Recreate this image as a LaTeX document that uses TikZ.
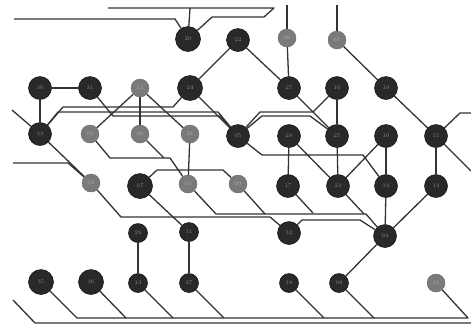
\documentclass[tikz,border=0pt]{standalone}
\usetikzlibrary{backgrounds}
\begin{document}
\begin{tikzpicture}[x=1pt,y=-1pt,
  dk/.style={circle,fill=black!84,draw=black!95,line width=0.5pt,minimum size=25pt,inner sep=0pt,font=\fontsize{5.5}{5.5}\selectfont,text=black!45},
  dkm/.style={dk,minimum size=23pt},
  dks/.style={dk,minimum size=19pt},
  gr/.style={circle,fill=black!52,draw=black!58,line width=0.4pt,minimum size=18pt,inner sep=0pt,font=\fontsize{5.5}{5.5}\selectfont,text=black!32},
  ln/.style={draw=black!80,line width=1.3pt,line join=round}]
\useasboundingbox (0,0) rectangle (471,325);
% nodes
\node[dk] (a0) at (188,39) {20};
\node[dkm] (b0) at (238,40) {22};
\node[gr] (c0) at (287,38) {26};
\node[gr] (d0) at (337,40) {61};
\node[dkm] (r1c0) at (40,88) {30};
\node[dkm] (r1c1) at (90,88) {31};
\node[gr] (r1c2) at (140,88) {12};
\node[dk] (r1c3) at (190,88) {24};
\node[dkm] (r1c5) at (289,88) {27};
\node[dkm] (r1c6) at (337,88) {16};
\node[dkm] (r1c7) at (386,88) {19};
\node[dkm] (r2c0) at (40,134) {33};
\node[gr] (r2c1) at (90,134) {02};
\node[gr] (r2c2) at (140,134) {06};
\node[gr] (r2c3) at (190,134) {21};
\node[dkm] (r2c4) at (238,136) {05};
\node[dkm] (r2c5) at (289,136) {28};
\node[dkm] (r2c6) at (337,136) {25};
\node[dkm] (r2c7) at (386,136) {10};
\node[dkm] (r2c8) at (436,136) {15};
\node[gr] (r3c1) at (91,183) {01};
\node[dk] (r3c2) at (140,186) {07};
\node[gr] (r3c3) at (188,184) {03};
\node[gr] (r3c4) at (238,184) {09};
\node[dkm] (r3c5) at (288,186) {17};
\node[dkm] (r3c6) at (338,186) {23};
\node[dkm] (r3c7) at (386,186) {34};
\node[dkm] (r3c8) at (436,186) {14};
\node[dks] (r4c2) at (138,233) {29};
\node[dks] (r4c3) at (189,232) {11};
\node[dkm] (r4c5) at (289,233) {32};
\node[dkm] (r4c7) at (385,236) {04};
\node[dk] (r5c0) at (41,282) {35};
\node[dk] (r5c1) at (91,282) {36};
\node[dks] (r5c2) at (138,283) {13};
\node[dks] (r5c3) at (189,283) {37};
\node[dks] (r5c5) at (289,283) {18};
\node[dks] (r5c6) at (339,283) {08};
\node[gr] (r5c8) at (436,283) {38};
% free ends
\coordinate (t1) at (108,8);
\coordinate (t2) at (190,8);
\coordinate (t3) at (14,19);
\coordinate (t4) at (287,5);
\coordinate (t5) at (337,5);
\coordinate (e1) at (12,110);
\coordinate (e2) at (13,163);
\coordinate (e3) at (471,113);
\coordinate (e4) at (471,171);
\coordinate (e5) at (13,300);
\coordinate (e6) at (471,323);
\coordinate (m1) at (164,158);
\coordinate (m2) at (265,214);
\coordinate (m3) at (313,213);
\coordinate (m4) at (364,214);
\coordinate (m5) at (126,318);
\coordinate (m6) at (173,318);
\coordinate (m7) at (224,318);
\coordinate (m8) at (324,318);
\coordinate (m9) at (374,318);
\begin{scope}[on background layer]
\fill[white] (0,0) rectangle (471,325);
% top
\draw[ln] (t1) -- (274,8) -- (264,17) -- (212,17) -- (a0);
\draw[ln] (t2) -- (a0);
\draw[ln] (t3) -- (175,19) -- (a0);
\draw[ln] (t4) -- (c0);
\draw[ln] (t5) -- (d0);
\draw[ln] (b0) -- (r1c3);
\draw[ln] (b0) -- (r1c5);
\draw[ln] (c0) -- (r1c5);
\draw[ln] (d0) -- (r1c7);
% row 1
\draw[ln] (r1c0) -- (r1c1);
\draw[ln] (r1c0) -- (r2c0);
\draw[ln] (r1c2) -- (r2c1);
\draw[ln] (r1c2) -- (r2c2);
\draw[ln] (r1c2) -- (r2c3);
\draw[ln] (r1c3) -- (r2c4);
\draw[ln] (r2c0) -- (63,107) -- (173,107) -- (r1c3);
\draw[ln] (r2c0) -- (58,112) -- (218,112) -- (r2c4);
\draw[ln] (r1c1) -- (113,116) -- (220,116) -- (r2c4);
\draw[ln] (r2c4) -- (260,112) -- (313,112) -- (r1c6);
\draw[ln] (r2c4) -- (262,116) -- (310,116) -- (r2c6);
\draw[ln] (r1c5) -- (r2c6);
\draw[ln] (r1c6) -- (r2c6);
\draw[ln] (r1c7) -- (r2c8);
% row 2
\draw[ln] (e1) -- (r2c0);
\draw[ln] (r2c0) -- (r3c1);
\draw[ln] (e2) -- (68,163) -- (r3c1);
\draw[ln] (r2c1) -- (110,158) -- (170,158) -- (r3c3);
\draw[ln] (r2c2) -- (m1);
\draw[ln] (r2c3) -- (r3c3);
\draw[ln] (r2c4) -- (262,155) -- (363,155) -- (r3c7);
\draw[ln] (r2c5) -- (r3c5);
\draw[ln] (r2c5) -- (r3c6);
\draw[ln] (r2c6) -- (r3c6);
\draw[ln] (r2c7) -- (r3c7);
\draw[ln] (r2c7) -- (r3c6);
\draw[ln] (r2c8) -- (r3c8);
\draw[ln] (r2c8) -- (460,113) -- (e3);
\draw[ln] (r2c8) -- (e4);
% row 3
\draw[ln] (r3c2) -- (r4c3);
\draw[ln] (r3c2) -- (157,170) -- (223,170) -- (r3c4);
\draw[ln] (r3c1) -- (121,217) -- (270,217) -- (r4c5);
\draw[ln] (r3c3) -- (216,214) -- (366,214) -- (r4c7);
\draw[ln] (r3c4) -- (m2);
\draw[ln] (r3c5) -- (m3);
\draw[ln] (r3c6) -- (m4);
\draw[ln] (r4c5) -- (302,220) -- (360,220) -- (r4c7);
\draw[ln] (r3c7) -- (r4c7);
\draw[ln] (r3c8) -- (r4c7);
% row 4 / 5
\draw[ln] (r4c2) -- (r5c2);
\draw[ln] (r4c3) -- (r5c3);
\draw[ln] (r4c7) -- (r5c6);
\draw[ln] (e5) -- (35,323) -- (e6);
\draw[ln] (r5c0) -- (77,318) -- (468,318) -- (r5c8);
\draw[ln] (r5c1) -- (m5);
\draw[ln] (r5c2) -- (m6);
\draw[ln] (r5c3) -- (m7);
\draw[ln] (r5c5) -- (m8);
\draw[ln] (r5c6) -- (m9);
\end{scope}
\end{tikzpicture}
\end{document}
